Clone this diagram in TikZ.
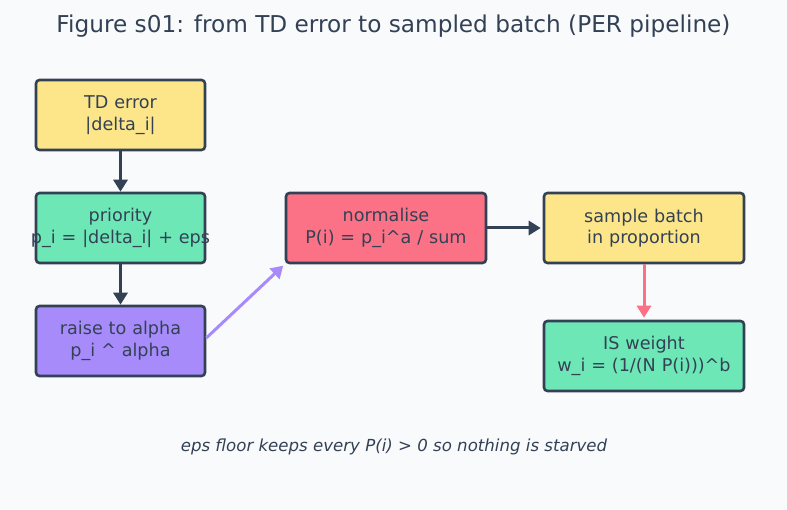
\documentclass[tikz,border=0pt]{standalone}
\usepackage{fontspec}
\setmainfont{DejaVu Sans}
\usetikzlibrary{arrows.meta}
\definecolor{bg}{HTML}{F9FAFC}
\definecolor{ink}{HTML}{334155}
\definecolor{cyellow}{HTML}{FDE68A}
\definecolor{cgreen}{HTML}{6EE7B7}
\definecolor{cpurple}{HTML}{A78BFA}
\definecolor{cred}{HTML}{FB7185}
\tikzset{
  box/.style={draw=ink, line width=2.6pt, rounded corners=3.5pt, text width=169pt, minimum height=70pt, align=center, text=ink, font=\fontsize{17.6}{21.5}\selectfont, inner sep=0pt},
  wbox/.style={box, text width=200pt},
  conn/.style={line width=3pt, -{Triangle[length=12pt,width=14pt]}},
}
\begin{document}
\begin{tikzpicture}[x=1pt,y=-1pt]
\fill[bg] (0,0) rectangle (787,510);
\useasboundingbox (0,0) rectangle (787,510);
\node[text=ink, font=\fontsize{23.2}{27}\selectfont] (title) at (393.5,26) {Figure s01: from TD error to sampled batch (PER pipeline)};
\node[box, fill=cyellow] (td) at (120.5,115) {TD error\\|delta\_i|};
\node[box, fill=cgreen] (prio) at (120.5,228) {priority\\\makebox[169pt]{p\_i = |delta\_i| + eps}};
\node[box, fill=cpurple] (raise) at (120.5,341) {raise to alpha\\p\_i \^{} alpha};
\node[wbox, fill=cred] (norm) at (386,228) {normalise\\P(i) = p\_i\^{}a / sum};
\node[wbox, fill=cyellow] (samp) at (644,228) {sample batch\\in proportion};
\node[wbox, fill=cgreen] (isw) at (644,356) {IS weight\\w\_i = (1/(N P(i)))\^{}b};
\node[text=ink, font=\fontsize{16.6}{20}\selectfont\itshape] (cap) at (394,447) {eps floor keeps every P(i) > 0 so nothing is starved};
\draw[conn, draw=ink, fill=ink] (td) -- (prio);
\draw[conn, draw=ink, fill=ink] (prio) -- (raise);
\draw[conn, draw=cpurple, fill=cpurple, shorten >=2pt] (raise.east |- 0,338) -- (norm.south west);
\draw[conn, draw=ink, fill=ink, shorten >=2pt] (norm) -- (samp);
\draw[conn, draw=cred, fill=cred, shorten >=2pt] (samp) -- (isw);
\end{tikzpicture}
\end{document}
